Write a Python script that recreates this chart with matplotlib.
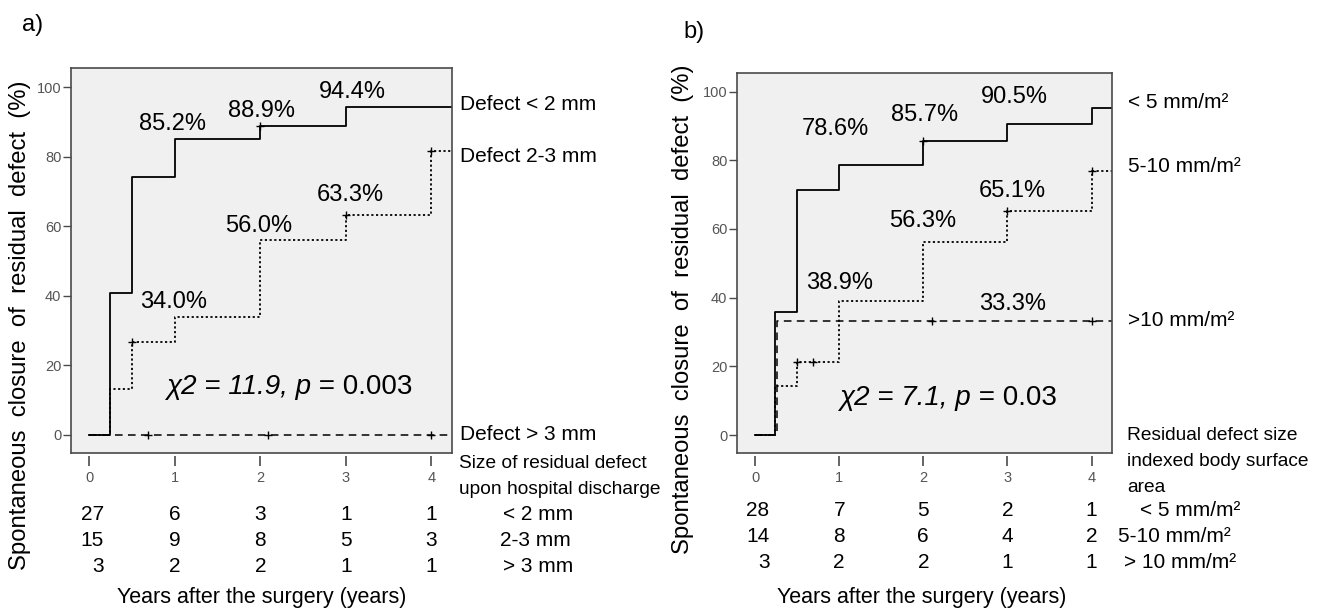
import matplotlib
matplotlib.use("Agg")
import matplotlib.pyplot as plt
import matplotlib.transforms as mtransforms

plt.rcParams['font.family'] = ['Liberation Sans', 'DejaVu Sans']

W, H = 1322, 608

# ---------------- data ----------------
xticks = [0, 1, 2, 3, 4]
yticks = [0, 20, 40, 60, 80, 100]

# panel a
a_lt2_t = [0, 0.24, 0.5, 1.0, 2.0, 3.0, 4.24]
a_lt2_v = [0, 40.7, 74.1, 85.2, 88.9, 94.4, 94.4]
a_lt2_ct = [2.0]
a_lt2_cv = [88.9]

a_23_t = [0, 0.24, 0.5, 1.0, 2.0, 3.0, 4.0, 4.24]
a_23_v = [0, 13.3, 26.7, 34.0, 56.0, 63.3, 81.6, 81.6]
a_23_ct = [0.5, 3.0, 4.0]
a_23_cv = [26.7, 63.3, 81.6]

a_gt3_t = [0, 4.24]
a_gt3_v = [0, 0]
a_gt3_ct = [0.69, 2.09, 4.0]
a_gt3_cv = [0, 0, 0]

a_pct_labels = ["85.2%", "88.9%", "94.4%", "63.3%", "56.0%", "34.0%"]
a_pct_x = [0.97, 2.02, 3.08, 3.05, 1.98, 0.98]
a_pct_y = [89.4, 93.2, 98.6, 69.0, 60.1, 38.3]

a_risk = [[27, 6, 3, 1, 1],
          [15, 9, 8, 5, 3],
          [3, 2, 2, 1, 1]]
a_risk_labels = ["< 2 mm", "2-3 mm", "> 3 mm"]
a_curve_labels = ["Defect < 2 mm", "Defect 2-3 mm", "Defect > 3 mm"]

# panel b
b_lt5_t = [0, 0.24, 0.5, 1.0, 2.0, 3.0, 4.0, 4.24]
b_lt5_v = [0, 35.7, 71.4, 78.6, 85.7, 90.5, 95.2, 95.2]
b_lt5_ct = [2.0]
b_lt5_cv = [85.7]

b_510_t = [0, 0.24, 0.5, 1.0, 2.0, 3.0, 4.0, 4.24]
b_510_v = [0, 14.3, 21.4, 38.9, 56.3, 65.1, 76.8, 76.8]
b_510_ct = [0.5, 0.69, 3.0, 4.0]
b_510_cv = [21.4, 21.4, 65.1, 76.8]

b_gt10_t = [0, 0.26, 4.24]
b_gt10_v = [0, 33.3, 33.3]
b_gt10_ct = [2.1, 4.0]
b_gt10_cv = [33.3, 33.3]

b_pct_labels = ["78.6%", "85.7%", "90.5%", "65.1%", "56.3%", "38.9%", "33.3%"]
b_pct_x = [0.95, 2.01, 3.08, 3.06, 1.99, 1.01, 3.06]
b_pct_y = [89.1, 93.2, 98.5, 71.1, 62.3, 44.3, 38.2]

b_risk = [[28, 7, 5, 2, 1],
          [14, 8, 6, 4, 2],
          [3, 2, 2, 1, 1]]
b_risk_labels = ["< 5 mm/m²", "5-10 mm/m²", "> 10 mm/m²"]
b_curve_labels = ["< 5 mm/m²", "5-10 mm/m²", ">10 mm/m²"]

# ---------------- figure ----------------
fig = plt.figure(figsize=(W / 100, H / 100), dpi=100)


def fx(px):
    return px / W


def fy(py):
    return 1 - py / H


def make_axes(left, top, right, bottom):
    ax = fig.add_axes([fx(left), fy(bottom), fx(right - left), (bottom - top) / H])
    ax.set_facecolor('#f0f0f0')
    for s in ax.spines.values():
        s.set_color('#4a4a4a')
        s.set_linewidth(1.2)
    ax.set_xlim(-0.215, 4.24)
    ax.set_ylim(-5.3, 105.5)
    ax.set_yticks(yticks)
    ax.set_yticklabels([str(v) for v in yticks])
    ax.tick_params(axis='y', direction='out', length=6, width=1, colors='#4a4a4a',
                   labelsize=10.5, pad=1, labelcolor='#555555')
    ax.tick_params(axis='x', bottom=False, labelbottom=False)
    sec = ax.secondary_xaxis(-0.006)
    sec.spines['bottom'].set_visible(False)
    sec.set_xticks(xticks)
    sec.set_xticklabels([str(v) for v in xticks])
    sec.tick_params(axis='x', direction='out', length=7, width=1.2, colors='#4a4a4a',
                    labelsize=10.5, pad=4, labelcolor='#555555')
    return ax


def draw_curves(ax, curves):
    for t, v, ct, cv, ls, lw in curves:
        ax.step(t, v, where='post', color='black', linestyle=ls, lw=lw)
        ax.plot(ct, cv, linestyle='none', marker='+', color='black', ms=6, mew=1)


solid = '-'
dotted = (0, (1.2, 1.4))
dashed = (0, (5, 3.5))

# ---- panel a ----
axa = make_axes(71, 68, 451.7, 453.3)
draw_curves(axa, [
    (a_gt3_t, a_gt3_v, a_gt3_ct, a_gt3_cv, dashed, 1.1),
    (a_23_t, a_23_v, a_23_ct, a_23_cv, dotted, 1.3),
    (a_lt2_t, a_lt2_v, a_lt2_ct, a_lt2_cv, solid, 1.3),
])
for lab, x, y in zip(a_pct_labels, a_pct_x, a_pct_y):
    axa.text(x, y, lab, ha='center', va='center', fontsize=17)
ta = axa.text(0.9, 13.8, "χ2 = 11.9, p", style='italic', ha='left', va='center', fontsize=20)
axa.annotate(" = 0.003", xy=(1, 0.5), xycoords=ta, ha='left', va='center', fontsize=20)

# ---- panel b ----
axb = make_axes(737, 72.7, 1111.7, 453.3)
draw_curves(axb, [
    (b_gt10_t, b_gt10_v, b_gt10_ct, b_gt10_cv, dashed, 1.1),
    (b_510_t, b_510_v, b_510_ct, b_510_cv, dotted, 1.3),
    (b_lt5_t, b_lt5_v, b_lt5_ct, b_lt5_cv, solid, 1.3),
])
for lab, x, y in zip(b_pct_labels, b_pct_x, b_pct_y):
    axb.text(x, y, lab, ha='center', va='center', fontsize=17)
tb = axb.text(1.0, 10.8, "χ2 = 7.1, p", style='italic', ha='left', va='center', fontsize=20)
axb.annotate(" = 0.03", xy=(1, 0.5), xycoords=tb, ha='left', va='center', fontsize=20)

# ---- side labels ----
fs = 15
fs_small = 13.8
for lab, py in zip(a_curve_labels, [105, 157, 435]):
    fig.text(fx(460), fy(py), lab, ha='left', va='center', fontsize=fs)
fig.text(fx(459), fy(463), "Size of residual defect", ha='left', va='center', fontsize=fs_small)
fig.text(fx(459), fy(490), "upon hospital discharge", ha='left', va='center', fontsize=fs_small)

for lab, py in zip(b_curve_labels, [103, 167, 321]):
    fig.text(fx(1128), fy(py), lab, ha='left', va='center', fontsize=fs)
for lab, py in zip(["Residual defect size", "indexed body surface", "area"], [436, 462, 488]):
    fig.text(fx(1127), fy(py), lab, ha='left', va='center', fontsize=fs_small)

# ---- number at risk tables ----
def risk_table(ax, rows, row_py, labels, label_px):
    tr = mtransforms.blended_transform_factory(ax.transData, fig.transFigure)
    for row, py, lab, lpx in zip(rows, row_py, labels, label_px):
        for i, (xt, n) in enumerate(zip(xticks, row)):
            if i == 0:
                ax.text(xt + 0.17, fy(py), str(n), ha='right', va='center', fontsize=fs, transform=tr)
            else:
                ax.text(xt, fy(py), str(n), ha='center', va='center', fontsize=fs, transform=tr)
        fig.text(fx(lpx), fy(py), lab, ha='left', va='center', fontsize=fs)


risk_table(axa, a_risk, [515, 541, 567], a_risk_labels, [503, 500, 503])
risk_table(axb, b_risk, [510, 536, 563], b_risk_labels, [1140, 1118, 1124])

# ---- axis titles ----
fig.text(fx(262), fy(597), "Years after the surgery (years)", ha='center', va='center', fontsize=15.5)
fig.text(fx(922), fy(597), "Years after the surgery (years)", ha='center', va='center', fontsize=15.5)
ylab = "Spontaneous  closure  of  residual  defect  (%)"
fig.text(fx(20), fy(325), ylab, rotation=90, ha='center', va='center', fontsize=17.2)
fig.text(fx(683), fy(309), ylab, rotation=90, ha='center', va='center', fontsize=17.2)

# ---- panel letters ----
fig.text(fx(22), fy(25), "a)", ha='left', va='center', fontsize=17)
fig.text(fx(683), fy(32), "b)", ha='left', va='center', fontsize=17)

fig.savefig("out.png", dpi=100)
